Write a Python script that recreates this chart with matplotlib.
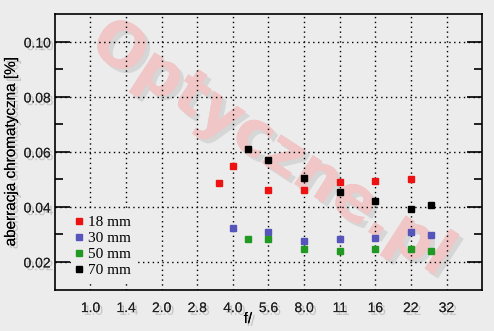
import matplotlib.pyplot as plt
import matplotlib.patheffects as pe

# f-number tick labels, placed one stop apart
f_labels = ['1.0', '1.4', '2.0', '2.8', '4.0', '5.6', '8.0', '11', '16', '22', '32']

# apertures in stops from f/1.0 (f/3.5, f/4, f/4.6, f/5.6 ... f/22, f/27)
stops_18 = [3.6, 4, 5, 6, 7, 8, 9]
ca_18 = [0.0487, 0.0548, 0.0462, 0.0462, 0.0490, 0.0493, 0.0501]

stops_30 = [4, 5, 6, 7, 8, 9, 9.57]
ca_30 = [0.0322, 0.0308, 0.0275, 0.0283, 0.0286, 0.0308, 0.0297]

stops_50 = [4.43, 5, 6, 7, 8, 9, 9.57]
ca_50 = [0.0283, 0.0283, 0.0246, 0.0239, 0.0246, 0.0246, 0.0239]

stops_70 = [4.43, 5, 6, 7, 8, 9, 9.57]
ca_70 = [0.0610, 0.0570, 0.0504, 0.0453, 0.0421, 0.0392, 0.0408]

series = [
    ('18 mm', stops_18, ca_18, '#ee1111'),
    ('30 mm', stops_30, ca_30, '#5555bb'),
    ('50 mm', stops_50, ca_50, '#229922'),
    ('70 mm', stops_70, ca_70, '#000000'),
]

bg = '#ececec'
shadow = [pe.withSimplePatchShadow(offset=(2, -2), shadow_rgbFace='#999999', alpha=0.5), pe.Normal()]

fig = plt.figure(figsize=(4.94, 3.31), dpi=100, facecolor=bg)
ax = fig.add_axes([0.111, 0.124, 0.865, 0.834], facecolor=bg)

# watermark, behind grid and points
ax.text(0.55, 0.55, 'Optyczne.pl', transform=fig.transFigure, fontsize=45, fontweight='heavy',
        family='DejaVu Sans', color='#f0c6c6', rotation=-33, ha='center', va='center',
        zorder=1, path_effects=[pe.withSimplePatchShadow(offset=(3, -3), shadow_rgbFace='#d6d6d6',
                                                         alpha=1), pe.Normal()])

for name, xs, ys, c in series:
    ax.plot(xs, ys, 's', color=c, markersize=3.8, label=name, zorder=3)

ax.set_xlim(-1, 11)
ax.set_ylim(0.0098, 0.1102)

ax.set_xticks(range(len(f_labels)))
ax.set_xticklabels(f_labels)
ax.set_yticks([0.02, 0.04, 0.06, 0.08, 0.10])
ax.set_yticks([0.03, 0.05, 0.07, 0.09], minor=True)
ax.set_yticklabels(['0.02', '0.04', '0.06', '0.08', '0.10'])

ax.tick_params(axis='x', length=0, pad=8, labelsize=10)
ax.tick_params(axis='y', which='major', direction='in', length=11, width=1.2,
               left=True, right=True, pad=3, labelsize=10)
ax.tick_params(axis='y', which='minor', direction='in', length=6, width=1.2,
               left=True, right=True)
for lab in ax.get_xticklabels() + ax.get_yticklabels():
    lab.set_family('Liberation Sans')
    lab.set_color('#222222')
    lab.set_path_effects(shadow)

ax.grid(True, which='major', color='black', linestyle=(0, (1, 2.5)), linewidth=1, zorder=2)
for s in ax.spines.values():
    s.set_linewidth(1.2)

ax.set_xlabel('f/', family='Liberation Sans', fontsize=11, path_effects=shadow)
ax.xaxis.set_label_coords(0.452, -0.08)
ax.set_ylabel('aberracja chromatyczna [%]', family='Liberation Sans', fontsize=11,
              labelpad=4, path_effects=shadow)

leg = ax.legend(loc='upper left', bbox_to_anchor=(0.02, 0.315), frameon=True,
                facecolor=bg, edgecolor='none', framealpha=1, fancybox=False,
                prop={'family': 'Liberation Serif', 'size': 11}, handlelength=0.5,
                handletextpad=0.3, labelspacing=0.15, borderpad=0.3, markerscale=1.0)
leg.set_zorder(5)

fig.savefig('out.png', dpi=100, facecolor=bg)
